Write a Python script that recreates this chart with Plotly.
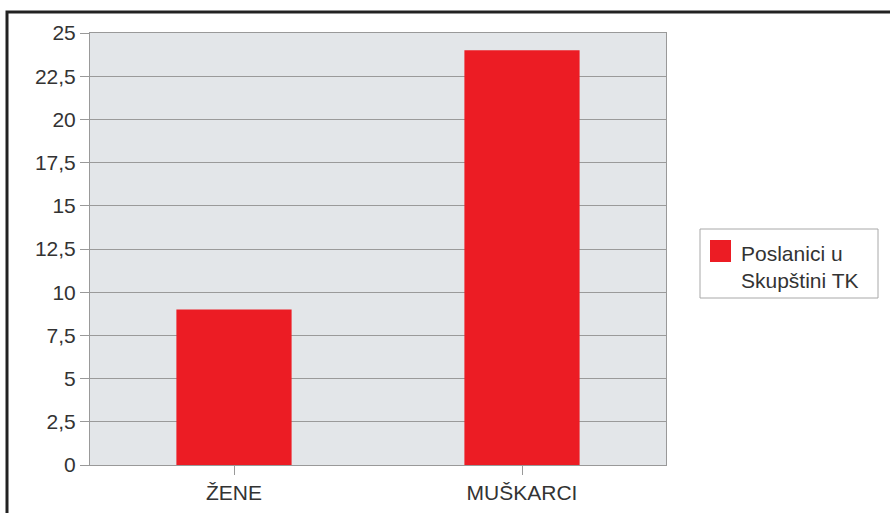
import plotly.graph_objects as go

categories = ["ŽENE", "MUŠKARCI"]
values = [9, 24]
series_name = "Poslanici u<br>Skupštini TK"
y_ticks = [0, 2.5, 5, 7.5, 10, 12.5, 15, 17.5, 20, 22.5, 25]
y_tick_labels = ["0", "2,5", "5", "7,5", "10", "12,5", "15", "17,5", "20", "22,5", "25"]

RED = "#ec1c24"
FONT = "Liberation Sans, Arial, sans-serif"
TXT = "#333333"

W, H = 890, 513
L, R, T, B = 90, 224, 33, 48
pw, ph = W - L - R, H - T - B


def px(x):
    return (x - L) / pw


def py(y):
    return 1 - (y - T) / ph


fig = go.Figure()
fig.add_trace(go.Bar(x=categories, y=values, name=series_name,
                     marker=dict(color=RED, line=dict(width=0)),
                     width=0.4, showlegend=False))

fig.update_layout(
    width=W, height=H,
    margin=dict(l=L, r=R, t=T, b=B),
    paper_bgcolor="white",
    plot_bgcolor="#e3e6e9",
    font=dict(family=FONT, size=21, color=TXT),
    showlegend=False,
    xaxis=dict(showline=True, linecolor="#999999", linewidth=1, mirror=True,
               ticks="outside", ticklen=9, tickcolor="#999999", showgrid=False,
               tickfont=dict(size=21), automargin=False),
    yaxis=dict(range=[0, 25], tickvals=y_ticks, ticktext=y_tick_labels,
               showline=True, linecolor="#999999", linewidth=1, mirror=True,
               ticks="outside", ticklen=9, tickcolor="#999999",
               gridcolor="#9a9a9a", gridwidth=1, zeroline=False,
               tickfont=dict(size=21), automargin=False),
)

# legend (box, swatch, label)
fig.add_shape(type="rect", xref="paper", yref="paper",
              x0=px(700), x1=px(878), y0=py(298), y1=py(229),
              line=dict(color="#a8a8a8", width=1), fillcolor="white", layer="above")
fig.add_shape(type="rect", xref="paper", yref="paper",
              x0=px(710), x1=px(731), y0=py(262), y1=py(240),
              line=dict(color=RED, width=0), fillcolor=RED, layer="above")
fig.add_annotation(xref="paper", yref="paper", x=px(739), y=py(267),
                   xanchor="left", yanchor="middle", align="left", showarrow=False,
                   text=series_name, font=dict(size=21, color=TXT))

# outer frame around the whole chart
fig.add_shape(type="rect", xref="paper", yref="paper",
              x0=px(7), x1=px(900), y0=py(525), y1=py(12),
              line=dict(color="#222222", width=3), fillcolor="rgba(0,0,0,0)", layer="above")

fig.write_html("out.html", config={"displayModeBar": False},
               post_script="document.body.style.margin='0';")
